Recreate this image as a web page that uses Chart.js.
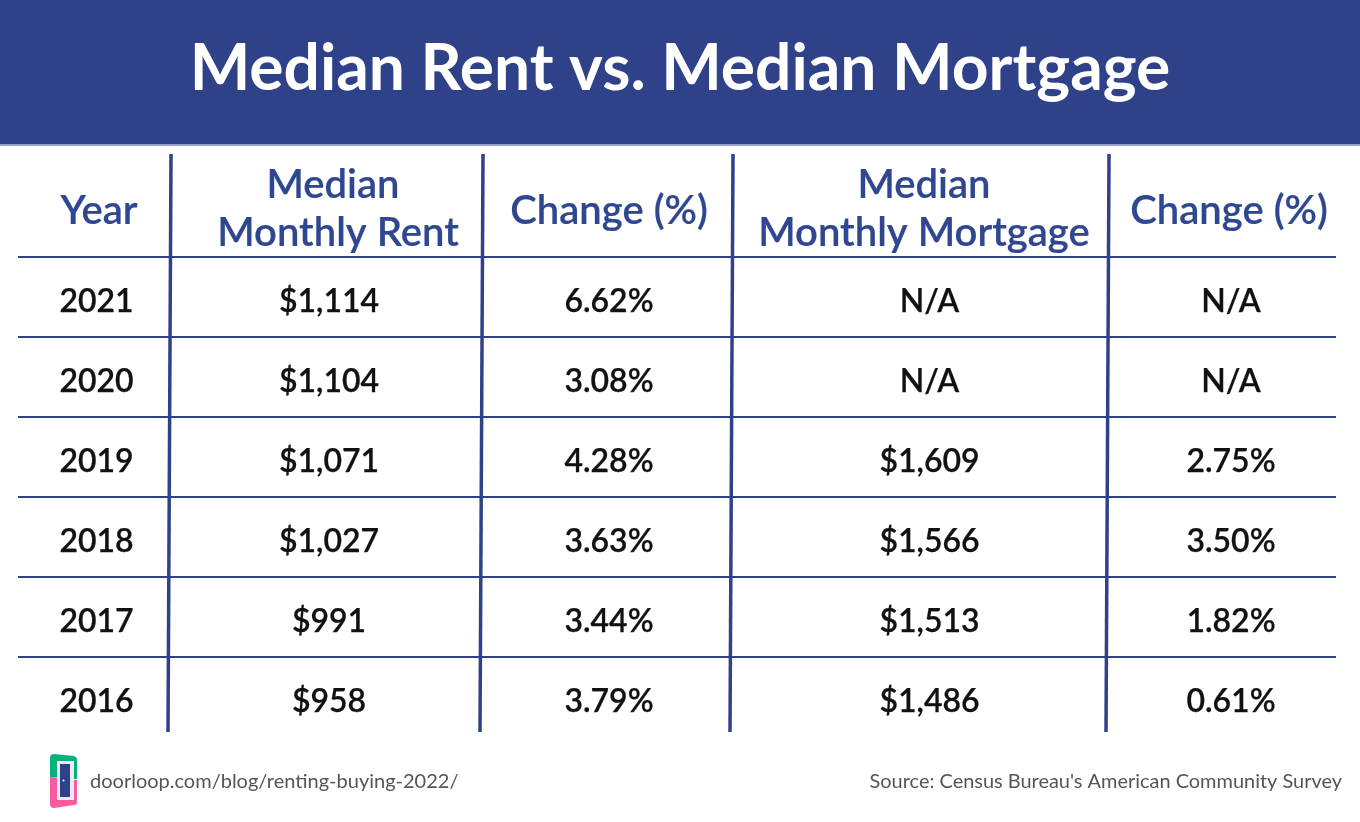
<!DOCTYPE html>
<html>
<head>
<meta charset="utf-8">
<title>Median Rent vs. Median Mortgage</title>
<script src="https://cdn.jsdelivr.net/npm/chart.js@4"></script>
<style>
  html, body { margin: 0; padding: 0; background: #fff; overflow: hidden; }
  #wrap { position: relative; width: 1360px; height: 822px; }
  #logo { position: absolute; left: 48px; top: 752px; }
  canvas { display: block; }
</style>
</head>
<body>
<div id="wrap">
  <canvas id="chart" width="1360" height="822"></canvas>
  <svg id="logo" width="32" height="58" viewBox="48 752 32 58">
    <path d="M50 758 Q50 754 54 754 L74 756 Q77 757 77 760 L77 779 L50 777 Z" fill="#05b27c"/>
    <path d="M50 777 L77 780 L77 802 Q77 805 74 805 L54 808 Q50 808 50 804 Z" fill="#fb5a9e"/>
    <rect x="57" y="761" width="17" height="39" fill="#e9ecf6"/>
    <rect x="60" y="764" width="10" height="33" fill="#2f4189"/>
    <circle cx="63.5" cy="780.5" r="1" fill="#fff"/>
  </svg>
</div>
<script>
var chartTitle = "Median Rent vs. Median Mortgage";
var headers = [["Year"], ["Median", "Monthly Rent"], ["Change (%)"], ["Median", "Monthly Mortgage"], ["Change (%)"]];
var years = ["2021", "2020", "2019", "2018", "2017", "2016"];
var medianRent = [1114, 1104, 1071, 1027, 991, 958];
var rentChange = [6.62, 3.08, 4.28, 3.63, 3.44, 3.79];
var medianMortgage = [null, null, 1609, 1566, 1513, 1486];
var mortgageChange = [null, null, 2.75, 3.50, 1.82, 0.61];
var footerLink = "doorloop.com/blog/renting-buying-2022/";
var footerSource = "Source: Census Bureau's American Community Survey";

var navy = "#2f4189";
var headerBlue = "#2f4690";
var cellFont = { family: "Lato", size: 32, weight: "600" };
var headerFont = { family: "Lato", size: 40, weight: "600" };
var linkFont = { family: "Lato", size: 20, weight: "400" };
var sourceFont = { family: "Lato", size: 19.95, weight: "400" };

// x is in page units, y is in table rows (row 0 is 2021)
var headerCentres = [[99], [333, 338], [609], [924, 924], [1229]];
var cellCentres = [96.5, 329, 609, 929.5, 1231];
var dividerTop = [171, 483, 733, 1109];
var dividerBottom = [168, 480, 730, 1106];
var tableLeft = 18, tableRight = 1336;
var headerTopRow = -1.2875, tableBottomRow = 5.9375;

function money(v) {
  return v === null ? "N/A" : "$" + v.toLocaleString("en-US");
}
function percent(v) {
  return v === null ? "N/A" : v.toFixed(2) + "%";
}

var cellColumns = [
  years,
  medianRent.map(money),
  rentChange.map(percent),
  medianMortgage.map(money),
  mortgageChange.map(percent)
];

var datasets = [];

// row rules
years.forEach(function(year, r) {
  datasets.push({
    data: [{ x: tableLeft, y: r }, { x: tableRight, y: r }],
    showLine: true, borderColor: navy, borderWidth: 2, pointRadius: 0
  });
});

// column dividers
dividerTop.forEach(function(x, i) {
  datasets.push({
    data: [{ x: x, y: headerTopRow }, { x: dividerBottom[i], y: tableBottomRow }],
    showLine: true, borderColor: navy, borderWidth: 3.5, pointRadius: 0
  });
});

// body cells
cellColumns.forEach(function(column, c) {
  datasets.push({
    data: column.map(function(text, r) { return { x: cellCentres[c], y: r + 0.69 }; }),
    texts: column, textFont: cellFont, textColor: "#111111", textAlign: "center", textStroke: 0.25,
    showLine: false, pointRadius: 0
  });
});

// header cells
headers.forEach(function(lines, c) {
  var ys = lines.length === 1 ? [-0.4125] : [-0.7375, -0.1375];
  datasets.push({
    data: lines.map(function(text, i) { return { x: headerCentres[c][i], y: ys[i] }; }),
    texts: lines, textFont: headerFont, textColor: headerBlue, textAlign: "center", textStroke: 0.2,
    showLine: false, pointRadius: 0
  });
});

// footer
datasets.push({
  data: [{ x: 90, y: 6.6375 }],
  texts: [footerLink], textFont: linkFont, textColor: "#555555", textAlign: "left",
  showLine: false, pointRadius: 0
});
datasets.push({
  data: [{ x: 1342, y: 6.6375 }],
  texts: [footerSource], textFont: sourceFont, textColor: "#555555", textAlign: "right",
  showLine: false, pointRadius: 0
});

var tablePlugin = {
  id: "tablePlugin",
  beforeDraw: function(chart) {
    var ctx = chart.ctx;
    ctx.save();
    ctx.fillStyle = navy;
    ctx.fillRect(0, 0, chart.width, chart.chartArea.top - 2);
    ctx.fillStyle = "#97a0c4";
    ctx.fillRect(0, chart.chartArea.top - 2, chart.width, 2);
    ctx.restore();
  },
  afterDatasetsDraw: function(chart) {
    var ctx = chart.ctx;
    chart.data.datasets.forEach(function(dataset, i) {
      if (!dataset.texts) return;
      var points = chart.getDatasetMeta(i).data;
      ctx.save();
      ctx.font = dataset.textFont.weight + " " + dataset.textFont.size + "px " + dataset.textFont.family;
      ctx.fillStyle = dataset.textColor;
      ctx.strokeStyle = dataset.textColor;
      ctx.lineWidth = dataset.textStroke || 0;
      ctx.textAlign = dataset.textAlign;
      ctx.textBaseline = "alphabetic";
      dataset.texts.forEach(function(text, j) {
        ctx.fillText(text, points[j].x, points[j].y);
        if (dataset.textStroke) ctx.strokeText(text, points[j].x, points[j].y);
      });
      ctx.restore();
    });
  }
};

new Chart(document.getElementById("chart"), {
  type: "scatter",
  data: { datasets: datasets },
  options: {
    responsive: false,
    animation: false,
    layout: { padding: 0 },
    clip: false,
    plugins: {
      legend: { display: false },
      tooltip: { enabled: false },
      title: {
        display: true,
        text: chartTitle,
        color: "#ffffff",
        font: { family: "Lato", size: 64.15, weight: "700", lineHeight: 1.2 },
        padding: { top: 31, bottom: 38.02 }
      }
    },
    scales: {
      x: { type: "linear", display: false, min: 0, max: 1360 },
      y: { type: "linear", display: false, reverse: true, min: -1.3875, max: 7.0625 }
    }
  },
  plugins: [tablePlugin]
});
</script>
</body>
</html>
